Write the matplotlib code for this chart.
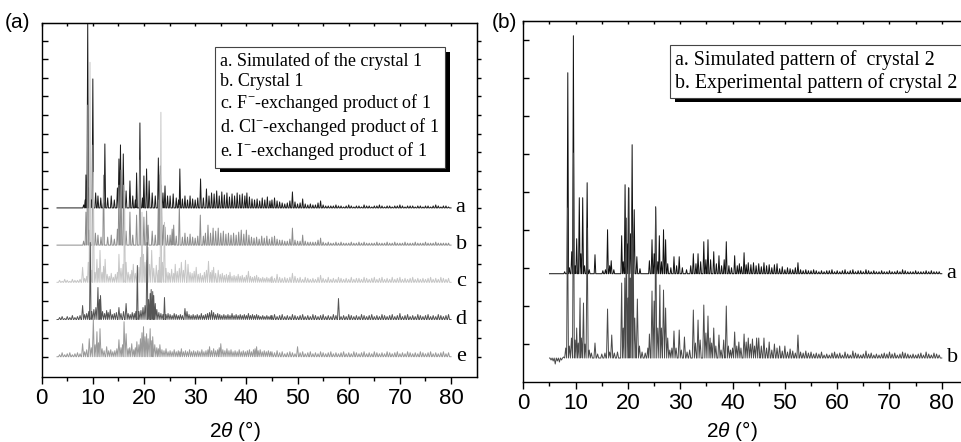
import numpy as np
import matplotlib
matplotlib.use('Agg')
import matplotlib.pyplot as plt
from matplotlib.lines import Line2D
from matplotlib import patheffects

plt.rcParams['font.family'] = 'Liberation Sans'
plt.rcParams['mathtext.fontset'] = 'custom'
plt.rcParams['mathtext.it'] = 'Liberation Sans:italic'
plt.rcParams['mathtext.rm'] = 'Liberation Serif'

# ---------------- data (2theta, peak height above own baseline, in plot units) ----------------
TAIL_X = np.arange(45.0, 80.0, 0.5)   # common grid for the flat high-angle part

# panel (a): crystal 1 and its anion-exchanged products
A_SIM = [(8.2, 3), (8.5, 8), (8.65, 33), (9.0, 186), (9.3, 20), (9.7, 8), (10.0, 129), (10.55, 15),
         (11.0, 12), (11.55, 10), (12.1, 6), (12.35, 64), (12.9, 10), (13.6, 12), (14.2, 8), (14.8, 20),
         (15.1, 49), (15.4, 63), (15.95, 54), (16.5, 17), (17.25, 27), (17.8, 12), (18.3, 8), (18.55, 35),
         (19.2, 85), (19.7, 10), (19.98, 32), (20.5, 39), (21.0, 27), (21.6, 15), (22.2, 12), (22.8, 50),
         (23.2, 42), (23.7, 15), (24.1, 22), (24.6, 12), (25.1, 12), (25.7, 14), (26.3, 10), (26.75, 8),
         (27.0, 39), (27.5, 9), (28.0, 12), (28.5, 8), (29.0, 12), (29.5, 9), (30.0, 8), (30.5, 10),
         (31.05, 29), (31.6, 10), (32.2, 19), (32.7, 12), (33.2, 15), (33.7, 14), (34.2, 17), (34.7, 12),
         (35.2, 16), (35.7, 13), (36.2, 15), (36.7, 11), (37.2, 14), (37.7, 12), (38.2, 15), (38.7, 13),
         (39.2, 14), (39.7, 12), (40.1, 15), (40.6, 11), (41.1, 9), (41.6, 8), (42.1, 9), (42.6, 7),
         (43.1, 10), (43.6, 8), (44.1, 11), (44.6, 7)]
A_SIM_TAIL = [8, 10, 7, 6, 5, 4, 5, 7, 16, 6,
              4, 5, 9, 4, 3, 4, 3, 3, 5, 7,
              3, 2, 2, 2, 2, 3, 2, 2, 1, 2,
              3, 2, 1, 2, 2, 1, 3, 2, 2, 1,
              2, 2, 3, 2, 1, 2, 2, 1, 2, 2,
              3, 2, 1, 2, 2, 2, 1, 2, 2, 1,
              2, 2, 1, 2, 3, 2, 1, 2, 2, 1]

A_CRY = [(8.2, 4), (8.65, 33), (9.0, 140), (9.3, 15), (10.0, 100), (10.5, 12), (11.0, 10), (11.6, 8),
         (12.1, 70), (12.9, 8), (13.6, 10), (14.2, 6), (14.8, 16), (15.1, 60), (15.5, 75), (16.0, 60),
         (16.5, 14), (17.25, 33), (17.8, 10), (18.55, 30), (19.2, 85), (19.98, 28), (20.5, 34), (20.8, 20),
         (21.6, 14), (22.2, 10), (22.8, 45), (23.1, 70), (23.4, 60), (23.8, 20), (24.1, 18), (24.6, 10),
         (25.1, 10), (25.5, 16), (25.8, 20), (26.3, 9), (26.9, 40), (27.5, 8), (28.0, 12), (28.5, 8),
         (29.0, 11), (29.5, 8), (30.0, 7), (30.5, 9), (31.0, 30), (31.6, 9), (32.0, 12), (32.5, 20),
         (33.0, 12), (33.5, 17), (34.0, 14), (34.5, 17), (35.0, 12), (35.5, 14), (36.0, 11), (36.5, 12),
         (37.0, 10), (37.5, 12), (38.0, 10), (38.5, 13), (39.0, 15), (39.5, 11), (40.0, 15), (40.5, 10),
         (41.0, 8), (41.5, 7), (42.0, 8), (42.5, 6), (43.0, 9), (43.5, 7), (44.0, 9), (44.5, 6)]
A_CRY_TAIL = [8, 9, 6, 5, 5, 4, 4, 6, 17, 5,
              4, 4, 10, 4, 3, 3, 3, 3, 5, 7,
              3, 2, 3, 2, 2, 3, 2, 3, 2, 2,
              2, 3, 2, 2, 3, 2, 3, 2, 2, 2,
              2, 3, 2, 2, 2, 3, 2, 2, 3, 2,
              2, 2, 3, 2, 2, 2, 3, 2, 2, 2,
              3, 2, 2, 2, 3, 2, 2, 2, 2, 2]

A_F = [(3.5, 2), (4.0, 1), (4.5, 3), (5.0, 2), (5.5, 1), (6.0, 3), (6.5, 2), (7.0, 2), (7.5, 3),
       (8.0, 15), (8.4, 4), (8.8, 6), (9.1, 20), (9.45, 220), (9.8, 12), (10.1, 110), (10.45, 10),
       (10.8, 23), (11.1, 14), (11.4, 32), (11.8, 10), (12.1, 16), (12.4, 23), (12.8, 8), (13.2, 6),
       (13.6, 9), (14.0, 5), (14.4, 8), (14.8, 10), (15.1, 28), (15.5, 14), (15.9, 18), (16.2, 90),
       (16.5, 20), (16.9, 10), (17.3, 8), (17.6, 12), (17.9, 18), (18.3, 9), (18.7, 12), (19.0, 15),
       (19.3, 25), (19.6, 70), (19.9, 28), (20.2, 20), (20.5, 22), (20.8, 35), (21.1, 18), (21.5, 32),
       (21.9, 14), (22.4, 17), (22.8, 12), (23.0, 25), (23.3, 170), (23.6, 20), (24.0, 60), (24.3, 14),
       (24.7, 10), (25.0, 9), (25.4, 13), (25.8, 9), (26.1, 18), (26.5, 11), (26.9, 14), (27.3, 20),
       (27.7, 12), (28.1, 22), (28.6, 18), (29.0, 10), (29.4, 9), (29.8, 11), (30.2, 15), (30.6, 8),
       (31.0, 9), (31.4, 7), (31.8, 10), (32.2, 12), (32.6, 21), (33.0, 10), (33.3, 12), (33.6, 15),
       (34.0, 9), (34.5, 12), (34.9, 8), (35.3, 9), (35.7, 7), (36.1, 8), (36.5, 7), (36.8, 10),
       (37.2, 6), (37.6, 7), (38.0, 6), (38.4, 8), (38.8, 6), (39.2, 7), (39.6, 5), (40.0, 7),
       (40.4, 11), (40.8, 6), (41.2, 5), (41.6, 6), (42.0, 7), (42.4, 5), (42.8, 4), (43.2, 5),
       (43.6, 4), (44.0, 5), (44.4, 4), (44.8, 5)]
A_F_TAIL = [6, 4, 8, 5, 4, 5, 4, 5, 9, 6,
            4, 5, 3, 5, 4, 3, 4, 3, 5, 7,
            4, 3, 5, 3, 4, 3, 5, 4, 3, 4,
            3, 5, 3, 4, 4, 3, 5, 4, 3, 4,
            5, 3, 4, 5, 3, 4, 3, 5, 3, 4,
            5, 3, 4, 3, 4, 5, 3, 4, 3, 4,
            3, 4, 5, 3, 4, 3, 5, 4, 3, 4]

A_CL = [(3.5, 2), (4.0, 3), (4.5, 1), (5.0, 3), (5.5, 2), (6.0, 4), (6.5, 2), (7.0, 3), (7.5, 4),
        (8.0, 14), (8.4, 5), (8.8, 6), (9.2, 8), (9.5, 77), (9.8, 8), (10.2, 10), (10.6, 12),
        (11.0, 32), (11.3, 20), (11.5, 24), (11.9, 8), (12.3, 6), (12.7, 9), (13.0, 7), (13.4, 10),
        (13.8, 5), (14.2, 6), (14.6, 7), (15.1, 12), (15.5, 6), (16.0, 8), (16.5, 16), (16.9, 6),
        (17.3, 5), (17.7, 7), (18.1, 6), (18.4, 8), (18.7, 54), (19.0, 8), (19.4, 9), (19.8, 12),
        (20.2, 14), (20.6, 77), (20.9, 20), (21.2, 26), (21.4, 30), (21.7, 28), (21.9, 24), (22.2, 16),
        (22.5, 10), (22.9, 7), (23.3, 6), (23.7, 5), (24.0, 22), (24.3, 5), (24.7, 6), (25.1, 5),
        (25.5, 4), (25.9, 6), (26.3, 5), (26.7, 4), (27.1, 5), (27.5, 4), (28.0, 11), (28.4, 8),
        (28.8, 5), (29.2, 4), (29.6, 5), (30.0, 4), (30.4, 5), (30.8, 4), (31.2, 6), (31.6, 4),
        (32.0, 5), (32.4, 6), (32.8, 7), (33.2, 9), (33.6, 7), (34.0, 5), (34.4, 6), (34.8, 5),
        (35.2, 4), (35.6, 5), (36.0, 4), (36.4, 5), (36.8, 4), (37.2, 6), (37.6, 4), (38.0, 5),
        (38.4, 4), (38.8, 5), (39.2, 4), (39.6, 5), (40.0, 4), (40.4, 6), (40.8, 4), (41.2, 5),
        (41.6, 4), (42.0, 5), (42.4, 4), (42.8, 3), (43.2, 4), (43.6, 3), (44.0, 4), (44.4, 3), (44.8, 4)]
A_CL_TAIL = [4, 5, 3, 4, 5, 3, 4, 3, 5, 4,
             3, 4, 5, 3, 4, 3, 5, 4, 3, 4,
             5, 3, 4, 3, 5, 4, 21, 3, 4, 3,
             5, 4, 3, 4, 3, 5, 4, 3, 4, 5,
             3, 4, 3, 5, 4, 3, 4, 5, 3, 4,
             6, 3, 4, 5, 3, 4, 3, 5, 4, 3,
             4, 5, 3, 4, 3, 5, 4, 3, 4, 5]

A_I = [(3.5, 2), (4.0, 4), (4.5, 2), (5.0, 3), (5.5, 4), (6.0, 2), (6.5, 3), (7.0, 4), (7.5, 3),
       (8.0, 13), (8.4, 5), (8.8, 7), (9.3, 18), (9.7, 9), (10.1, 38), (10.45, 12), (10.8, 25),
       (11.1, 14), (11.4, 28), (11.8, 8), (12.2, 6), (12.7, 10), (13.1, 6), (13.5, 7), (13.9, 5),
       (14.3, 6), (14.7, 8), (15.1, 17), (15.5, 9), (15.8, 12), (16.1, 35), (16.5, 23), (16.9, 8),
       (17.2, 9), (17.6, 13), (18.0, 7), (18.3, 9), (18.6, 15), (19.0, 12), (19.3, 18), (19.6, 24),
       (19.9, 30), (20.2, 20), (20.5, 23), (20.8, 18), (21.2, 28), (21.5, 16), (21.7, 20), (22.1, 12),
       (22.5, 9), (22.8, 8), (23.1, 12), (23.5, 7), (23.9, 6), (24.3, 8), (24.7, 5), (25.1, 6),
       (25.5, 5), (25.9, 7), (26.3, 5), (26.7, 6), (27.0, 5), (27.3, 8), (27.7, 5), (28.1, 6),
       (28.5, 5), (28.9, 7), (29.3, 5), (29.7, 6), (30.1, 5), (30.5, 6), (30.9, 5), (31.3, 7),
       (31.7, 5), (32.1, 6), (32.5, 7), (32.8, 10), (33.2, 6), (33.6, 8), (34.0, 6), (34.4, 7),
       (34.7, 9), (35.0, 13), (35.4, 7), (35.8, 6), (36.2, 8), (36.6, 6), (37.0, 7), (37.4, 5),
       (37.8, 6), (38.2, 5), (38.6, 7), (39.0, 5), (39.4, 6), (39.8, 5), (40.2, 6), (40.6, 7),
       (41.0, 5), (41.4, 7), (41.7, 8), (42.0, 10), (42.3, 6), (42.7, 7), (43.1, 5), (43.5, 6),
       (43.9, 5), (44.3, 6), (44.7, 5)]
A_I_TAIL = [5, 4, 6, 4, 5, 3, 4, 5, 4, 3,
            10, 4, 5, 3, 4, 5, 3, 4, 3, 5,
            4, 3, 4, 5, 3, 4, 3, 4, 5, 3,
            4, 3, 5, 4, 3, 4, 5, 3, 4, 3,
            5, 4, 3, 4, 3, 5, 4, 3, 4, 5,
            3, 4, 3, 5, 4, 3, 4, 3, 5, 4,
            3, 4, 5, 3, 4, 3, 4, 5, 3, 4]

# panel (b): crystal 2
B_SIM = [(7.9, 2), (8.5, 201), (8.8, 6), (9.25, 22), (9.57, 238), (9.9, 8), (10.2, 35), (10.7, 76),
         (11.0, 20), (11.35, 76), (11.7, 8), (12.2, 91), (12.6, 4), (13.7, 19), (15.2, 3), (15.7, 4),
         (16.1, 44), (16.5, 8), (16.8, 13), (17.3, 4), (18.8, 38), (19.1, 12), (19.45, 89), (19.8, 30),
         (20.1, 86), (20.5, 40), (20.8, 129), (21.2, 64), (21.7, 17), (22.3, 5), (24.1, 13), (24.6, 34),
         (25.0, 20), (25.3, 67), (25.7, 12), (26.0, 38), (26.4, 12), (26.8, 44), (27.2, 34), (27.6, 10),
         (28.2, 6), (28.8, 17), (29.3, 8), (29.8, 17), (30.4, 6), (31.2, 4), (32.0, 8), (32.5, 20),
         (33.0, 10), (33.4, 20), (33.9, 12), (34.5, 32), (34.9, 14), (35.3, 34), (35.8, 14), (36.4, 22),
         (36.9, 10), (37.4, 18), (37.9, 8), (38.4, 14), (38.8, 32), (39.3, 8), (39.8, 6), (40.4, 18),
         (40.9, 8), (41.3, 10), (41.7, 7), (42.2, 21), (42.6, 9), (43.0, 11), (43.5, 9), (44.0, 11),
         (44.5, 8)]
B_SIM_TAIL = [10, 7, 11, 8, 9, 6, 9, 10, 5, 7,
              4, 6, 5, 4, 6, 11, 4, 3, 4, 3,
              3, 4, 3, 2, 3, 2, 3, 3, 4, 2,
              3, 2, 3, 4, 2, 3, 4, 2, 3, 3,
              2, 4, 3, 2, 3, 2, 2, 3, 2, 2,
              3, 2, 2, 3, 2, 4, 3, 2, 2, 2,
              3, 2, 2, 2, 3, 2, 3, 2, 2, 2]

B_EXP = [(5.3, -2), (5.7, -3), (6.1, -6), (6.5, -3), (6.9, -4), (7.3, -2), (7.7, 1), (8.1, 10),
         (8.45, 150), (8.8, 12), (9.2, 20), (9.6, 205), (9.9, 18), (10.2, 30), (10.5, 15), (10.84, 60),
         (11.1, 20), (11.5, 55), (11.8, 14), (12.2, 130), (12.6, 8), (13.0, 5), (13.7, 15), (14.2, 4),
         (15.0, 4), (15.6, 5), (16.1, 49), (16.5, 6), (16.9, 23), (17.4, 5), (18.0, 6), (18.8, 75),
         (19.1, 30), (19.4, 80), (19.7, 140), (20.0, 60), (20.2, 170), (20.45, 80), (20.7, 150),
         (21.0, 120), (21.3, 40), (21.8, 59), (22.2, 12), (22.7, 6), (23.3, 5), (23.8, 10), (24.1, 24),
         (24.6, 67), (25.0, 57), (25.3, 150), (25.7, 30), (26.1, 73), (26.4, 30), (26.8, 68), (27.2, 50),
         (27.6, 20), (28.0, 8), (28.4, 10), (28.8, 27), (29.2, 10), (29.8, 28), (30.2, 8), (30.8, 21),
         (31.3, 6), (31.8, 8), (32.5, 48), (32.9, 15), (33.4, 38), (33.8, 18), (34.5, 53), (34.9, 25),
         (35.3, 42), (35.7, 20), (36.0, 15), (36.4, 30), (36.8, 12), (37.4, 23), (37.8, 8), (38.3, 18),
         (38.8, 52), (39.2, 12), (39.6, 8), (40.0, 10), (40.4, 26), (40.8, 12), (41.2, 16), (41.6, 10),
         (42.2, 24), (42.6, 16), (43.0, 20), (43.4, 14), (43.8, 19), (44.2, 12), (44.6, 20)]
B_EXP_TAIL = [20, 12, 20, 10, 16, 8, 14, 10, 12, 7,
              12, 6, 9, 7, 5, 23, 6, 5, 7, 5,
              6, 4, 5, 4, 6, 3, 4, 3, 5, 6,
              4, 5, 3, 6, 4, 3, 7, 5, 4, 3,
              4, 7, 4, 5, 3, 4, 3, 4, 5, 4,
              6, 4, 5, 3, 4, 6, 5, 4, 3, 4,
              3, 4, 5, 3, 6, 4, 3, 5, 4, 3]

LEGEND_A = ['a. Simulated of the crystal 1', 'b. Crystal 1',
            'c. F$^{-}$-exchanged product of 1', 'd. Cl$^{-}$-exchanged product of 1',
            'e. I$^{-}$-exchanged product of 1']
LEGEND_B = ['a. Simulated pattern of  crystal 2', 'b. Experimental pattern of crystal 2']
CURVE_TAGS_A = ['a', 'b', 'c', 'd', 'e']
CURVE_TAGS_B = ['a', 'b']


# turns a peak list into a line: narrow triangles sitting on a flat baseline
def stick_line(peaks, tail, w, x0, x1):
    pk = list(peaks) + list(zip(TAIL_X, tail))
    xs, ys = [x0], [0.0]
    prev = None
    for p, h in pk:
        if prev is None:
            xs.append(p - w); ys.append(0.0)
        elif p - prev > 2 * w:
            xs += [prev + w, p - w]; ys += [0.0, 0.0]
        else:
            xs.append((prev + p) / 2); ys.append(0.0)
        xs.append(p); ys.append(h)
        prev = p
    xs += [prev + w, x1]; ys += [0.0, 0.0]
    return np.array(xs), np.array(ys)


SERIF = 'Liberation Serif'

fig = plt.figure(figsize=(9.62, 4.42), dpi=100)
ax_a = fig.add_axes([0.0433, 0.1477, 0.4522, 0.8009])
ax_b = fig.add_axes([0.544, 0.1364, 0.4622, 0.8167])

# ---- panel (a)
traces_a = [(A_SIM, A_SIM_TAIL, 0.15, '#1a1a1a'), (A_CRY, A_CRY_TAIL, 0.15, '#8c8c8c'),
            (A_F, A_F_TAIL, 0.2, '#c6c6c6'), (A_CL, A_CL_TAIL, 0.2, '#555555'),
            (A_I, A_I_TAIL, 0.2, '#9a9a9a')]
bases_a = [168.8, 131.6, 94.4, 57.2, 20.0]
for (pk, tail, w, col), base, tag in zip(traces_a, bases_a, CURVE_TAGS_A):
    x, y = stick_line(pk, tail, w, 3.0, 80.0)
    ax_a.plot(x, y + base, color=col, lw=0.7)
    ax_a.text(80.9, base - 4, tag, fontsize=16, family=SERIF, va='baseline', ha='left')
ax_a.set_ylim(0, 354)
ax_a.set_yticks(20 + 18.6 * np.arange(18))

# ---- panel (b)
traces_b = [(B_SIM, B_SIM_TAIL, 0.15, '#111111'), (B_EXP, B_EXP_TAIL, 0.2, '#4a4a4a')]
bases_b = [108.0, 23.7]
for (pk, tail, w, col), base, tag in zip(traces_b, bases_b, CURVE_TAGS_B):
    x, y = stick_line(pk, tail, w, 5.0, 80.0)
    ax_b.plot(x, y + base, color=col, lw=0.7)
    ax_b.text(80.9, base - 4, tag, fontsize=16, family=SERIF, va='baseline', ha='left')
ax_b.set_ylim(0, 361)
ax_b.set_yticks(38 * np.arange(1, 10))

for ax in (ax_a, ax_b):
    ax.set_xlim(0, 85)
    ax.set_xticks(range(0, 81, 10))
    ax.set_xticks(range(5, 81, 10), minor=True)
    ax.tick_params(axis='x', which='major', direction='out', length=5, width=1, labelsize=16, pad=3)
    ax.tick_params(axis='x', which='minor', direction='out', length=3, width=1)
    ax.tick_params(axis='y', direction='in', length=4, width=1, labelleft=False)
    for s in ax.spines.values():
        s.set_linewidth(1.0)
    top = ax.secondary_xaxis('top')
    top.set_xticks(range(0, 85, 5))
    top.tick_params(direction='in', length=2, width=1, labeltop=False)
    ax.set_xlabel(r'2$\theta$ (°)', fontsize=15)

ax_a.xaxis.set_label_coords(0.444, -0.12)
ax_b.xaxis.set_label_coords(0.47, -0.104)
right = ax_a.secondary_yaxis('right')
right.set_yticks(20 + 18.6 * np.arange(18))
right.tick_params(direction='out', length=3, width=1, labelright=False)

# ---- legends with a solid drop shadow
def boxed_legend(ax, labels, anchor, size, spacing, pad):
    handles = [Line2D([], [], linestyle='none') for _ in labels]
    leg = ax.legend(handles, labels, loc='upper left', bbox_to_anchor=anchor,
                    handlelength=0, handletextpad=0, fancybox=False, framealpha=1,
                    edgecolor='#444444', prop={'family': SERIF, 'size': size},
                    labelspacing=spacing, borderpad=pad, borderaxespad=0)
    leg.get_frame().set_linewidth(0.8)
    leg.get_frame().set_path_effects([
        patheffects.SimplePatchShadow(offset=(3.5, -3.5), shadow_rgbFace='black', alpha=1),
        patheffects.Normal()])

boxed_legend(ax_a, LEGEND_A, (0.398, 0.931), 13, 0.12, 0.3)
boxed_legend(ax_b, LEGEND_B, (0.33, 0.933), 14.3, 0.15, 0.25)

fig.text(0.005, 1 - 22 / 442, '(a)', fontsize=15, va='center', ha='left')
fig.text(0.511, 1 - 22 / 442, '(b)', fontsize=15, va='center', ha='left')

fig.savefig('out.png', dpi=100)
